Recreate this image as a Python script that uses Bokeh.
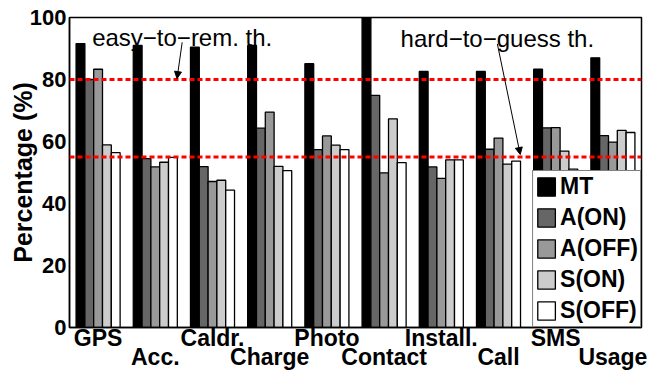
from bokeh.plotting import figure
from bokeh.models import (Range1d, Span, Label, ColumnDataSource,
                          Arrow, NormalHead, FixedTicker)
from bokeh.embed import file_html
from bokeh.resources import INLINE

# ---------------- data ----------------
categories = ["GPS", "Acc.", "Caldr.", "Charge", "Photo",
              "Contact", "Install.", "Call", "SMS", "Usage"]
series_names = ["MT", "A(ON)", "A(OFF)", "S(ON)", "S(OFF)"]
mt    = [91.6, 91.0, 90.4, 91.0, 85.1, 100.0, 82.6, 82.6, 83.3, 87.0]
a_on  = [80.0, 54.5, 51.9, 64.3, 57.4, 74.9, 51.8, 57.5, 64.4, 61.9]
a_off = [83.3, 51.8, 47.1, 69.5, 61.8, 49.9, 48.1, 61.1, 64.5, 59.8]
s_on  = [58.9, 53.3, 47.5, 52.0, 58.8, 67.3, 54.1, 52.7, 56.9, 63.6]
s_off = [56.4, 54.9, 44.3, 50.6, 57.4, 53.2, 54.1, 53.7, 51.1, 62.9]
easy_threshold = 80
hard_threshold = 55
y_ticks = [0, 20, 40, 60, 80, 100]
annotations = ["easy\u2212to\u2212rem. th.", "hard\u2212to\u2212guess th."]

colors = ["#000000", "#666666", "#999999", "#cccccc", "#ffffff"]
series = [mt, a_on, a_off, s_on, s_off]

BOLD_FONT = "Liberation Sans"

p = figure(width=670, height=373, output_backend="svg", toolbar_location=None,
           x_range=Range1d(0.5, 10.5), y_range=Range1d(0, 100),
           min_border_left=69, min_border_right=29, min_border_top=17,
           min_border_bottom=46)
p.background_fill_color = "white"
p.border_fill_color = "white"
p.xgrid.visible = False
p.ygrid.visible = False
p.outline_line_color = "black"
p.outline_line_width = 1.5
p.outline_line_alpha = 1.0

# bars
bw = 0.154
for k, (name, vals, col) in enumerate(zip(series_names, series, colors)):
    off = (k - 2) * bw
    xs = [i + 1 + off for i in range(len(categories))]
    src = ColumnDataSource(dict(x=xs, top=vals))
    p.vbar(x="x", top="top", width=bw, bottom=0, source=src,
           fill_color=col, line_color="black", line_width=1.3,
           legend_label=name)

# threshold lines
for thr in (easy_threshold, hard_threshold):
    p.add_layout(Span(location=thr, dimension="width", line_color="#ff0000",
                      line_width=3, line_dash="5 3"))

# axes
p.yaxis.ticker = FixedTicker(ticks=y_ticks)
p.yaxis.major_label_text_font = BOLD_FONT
p.yaxis.major_label_text_font_style = "bold"
p.yaxis.major_label_text_font_size = "22px"
p.yaxis.major_label_text_color = "black"
p.yaxis.major_label_standoff = 3
p.yaxis.major_tick_out = 0
p.yaxis.major_tick_in = 0
p.yaxis.minor_tick_line_color = None
p.yaxis.axis_line_color = "black"
p.yaxis.axis_line_width = 1.5
p.yaxis.axis_label = "Percentage (%)"
p.yaxis.axis_label_text_font = BOLD_FONT
p.yaxis.axis_label_text_font_style = "bold"
p.yaxis.axis_label_text_font_size = "25px"
p.yaxis.axis_label_text_color = "black"
p.yaxis.axis_label_standoff = -10

# category labels in two staggered rows (second row via leading newline)
group_pos = [i + 1 for i in range(len(categories))]
p.xaxis.ticker = FixedTicker(ticks=group_pos)
p.xaxis.major_label_overrides = {
    g: (c if i % 2 == 0 else "\n" + c)
    for i, (g, c) in enumerate(zip(group_pos, categories))
}
p.xaxis.major_label_text_font = BOLD_FONT
p.xaxis.major_label_text_font_style = "bold"
p.xaxis.major_label_text_font_size = "23px"
p.xaxis.major_label_text_color = "black"
p.xaxis.major_label_text_line_height = 0.74
p.xaxis.major_label_standoff = -3
p.xaxis.major_tick_out = 0
p.xaxis.major_tick_in = 0
p.xaxis.major_tick_line_color = None
p.xaxis.minor_tick_line_color = None
p.xaxis.axis_line_color = "black"
p.xaxis.axis_line_width = 1.5

# threshold annotations
p.add_layout(Label(x=2.47, y=93.6, text=annotations[0], text_align="center",
                   text_baseline="alphabetic", text_font="Liberation Sans",
                   text_font_size="24px", text_color="black"))
p.add_layout(Label(x=7.98, y=93.3, text=annotations[1], text_align="center",
                   text_baseline="alphabetic", text_font="Liberation Sans",
                   text_font_size="24px", text_color="black"))
p.add_layout(Arrow(end=NormalHead(size=7, fill_color="black", line_color="black"),
                   x_start=2.47, y_start=92.0, x_end=2.38, y_end=80.3,
                   line_color="black", line_width=1))
p.add_layout(Arrow(end=NormalHead(size=7, fill_color="black", line_color="black"),
                   x_start=7.98, y_start=91.5, x_end=8.38, y_end=55.8,
                   line_color="black", line_width=1))

# legend
lg = p.legend[0]
lg.location = "bottom_right"
lg.margin = 0
lg.padding = 2
lg.spacing = 4
lg.glyph_width = 22
lg.glyph_height = 23
lg.label_height = 23
lg.label_standoff = 3
lg.label_text_font = BOLD_FONT
lg.label_text_font_style = "bold"
lg.label_text_font_size = "23px"
lg.label_text_color = "black"
lg.border_line_color = "black"
lg.border_line_width = 1.5
lg.background_fill_color = "white"
lg.background_fill_alpha = 1.0

open("out.html", "w").write(file_html(p, INLINE))
